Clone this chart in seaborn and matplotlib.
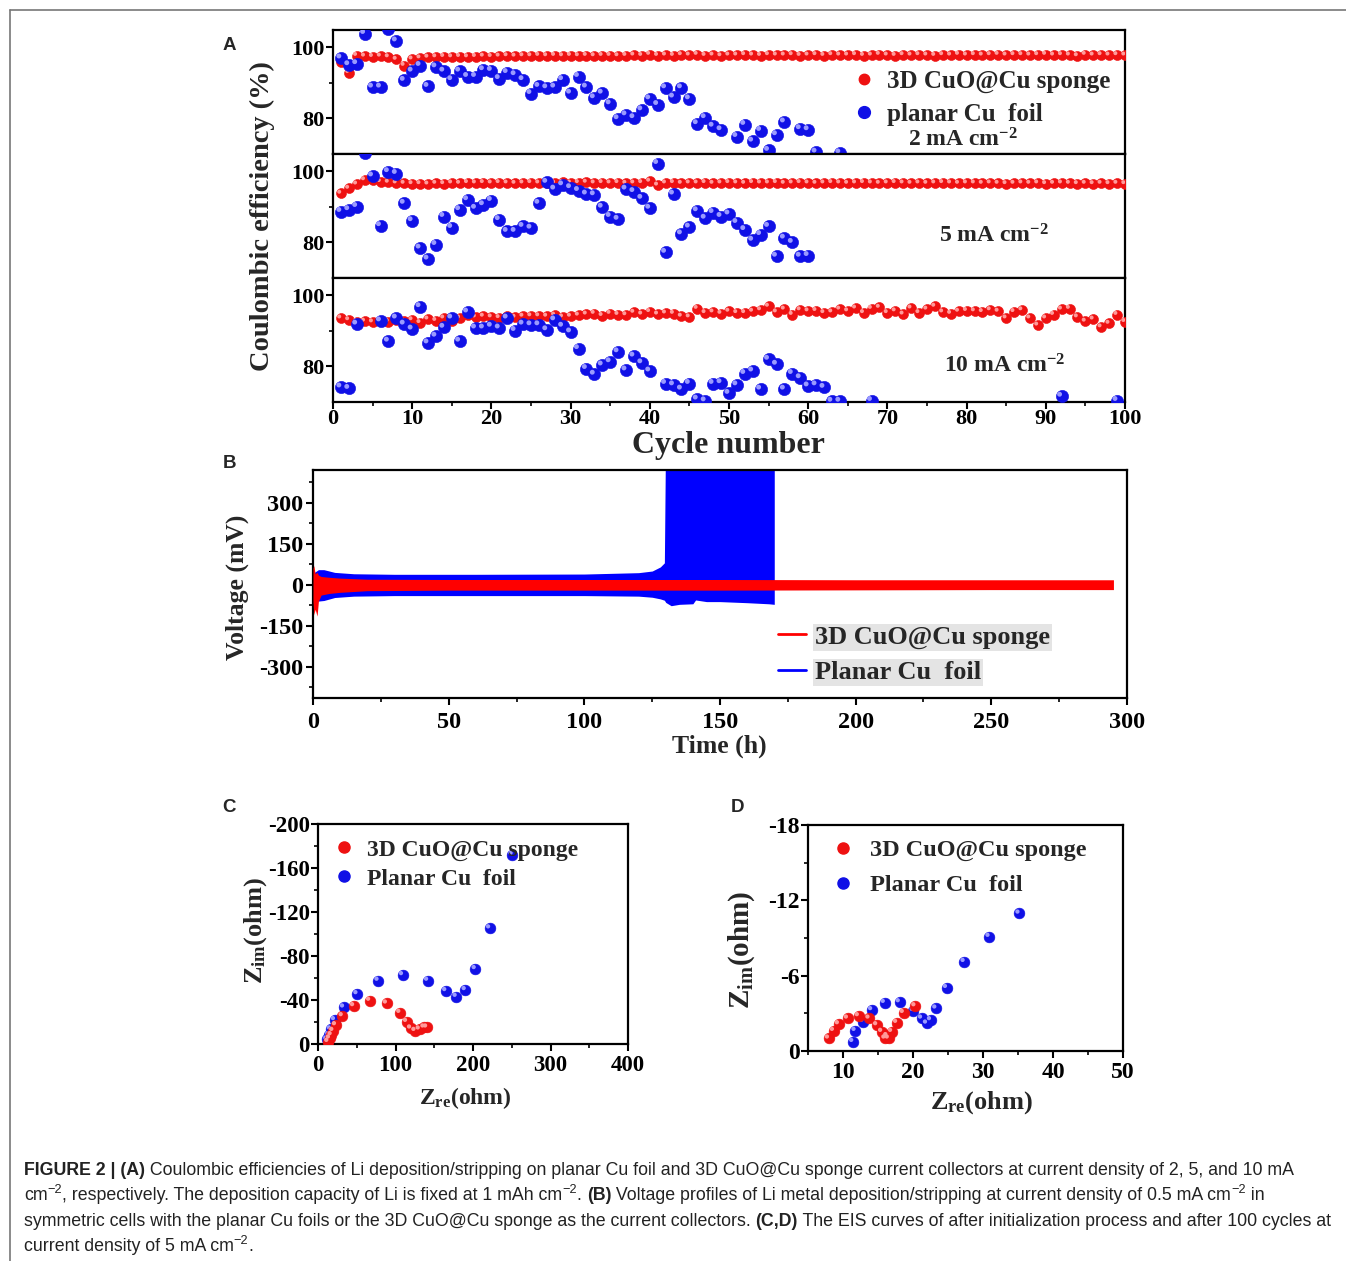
import numpy as np
import pandas as pd
import matplotlib
matplotlib.use("Agg")
import matplotlib.pyplot as plt
import seaborn as sns
from matplotlib.lines import Line2D
from matplotlib.ticker import MultipleLocator, FixedLocator
import matplotlib.transforms as mtrans

# ------------------------------------------------------------------ data
cycles = list(range(1, 101))

ce_2mA_sponge = [95.8, 92.8, 97.6, 97.4, 97.3, 97.4, 97.2, 96.5, 94.8, 96.6,
                 96.9, 97.1, 97.2, 97.3, 97.2, 97.3, 97.2, 97.3, 97.4, 97.3,
                 97.4, 97.5, 97.4, 97.5, 97.5, 97.6, 97.5, 97.6, 97.5, 97.6,
                 97.5, 97.6, 97.5, 97.6, 97.6, 97.5, 97.6, 97.7, 97.6, 97.9,
                 97.6, 97.7, 97.6, 97.8, 97.7, 97.9, 97.6, 97.7, 97.5, 97.7,
                 97.7, 97.8, 97.7, 97.6, 97.8, 97.7, 97.7, 97.8, 97.6, 97.7,
                 97.8, 97.6, 97.8, 97.7, 97.7, 97.8, 97.6, 97.7, 97.9, 97.7,
                 97.6, 97.8, 97.7, 97.8, 97.7, 97.6, 97.8, 97.7, 97.9, 97.7,
                 97.8, 97.7, 97.8, 97.9, 97.7, 97.8, 97.8, 97.7, 97.8, 97.9,
                 97.7, 97.8, 97.7, 97.5, 97.9, 97.7, 97.8, 97.7, 97.8, 97.7]

foil_2mA_cycles = list(range(1, 50)) + [51, 52, 53, 54, 55, 56, 57, 59, 60, 61, 64]
foil_2mA_ce = [96.9, 95.0, 95.3, 103.8, 88.7, 88.7, 105.0, 101.7, 90.6, 93.2,
               94.8, 88.9, 94.4, 93.2, 90.8, 93.2, 91.7, 91.7, 93.6, 93.4,
               91.1, 92.8, 92.2, 90.8, 86.9, 88.9, 88.5, 88.7, 90.8, 87.0,
               91.7, 88.7, 85.7, 87.0, 84.0, 79.8, 80.9, 80.1, 82.3, 85.4,
               83.8, 88.5, 85.9, 88.5, 85.4, 78.4, 80.1, 77.7, 76.7,
               74.8, 78.2, 73.5, 76.5, 70.9, 75.3, 78.9, 77.0, 76.7, 70.4, 70.2]

ce_5mA_sponge = [93.7, 95.1, 96.3, 97.5, 97.5, 97.0, 96.8, 96.6, 96.5, 96.4,
                 96.4, 96.3, 96.5, 96.4, 96.6, 96.5, 96.7, 96.6, 96.7, 96.6,
                 96.7, 96.6, 96.5, 96.6, 96.7, 96.6, 96.7, 96.6, 96.8, 96.6,
                 96.7, 96.8, 96.6, 96.7, 96.6, 96.7, 96.5, 96.6, 96.7, 97.1,
                 96.0, 96.6, 96.7, 96.5, 96.6, 96.6, 96.7, 96.5, 96.6, 96.7,
                 96.6, 96.5, 96.7, 96.6, 96.6, 96.7, 96.5, 96.6, 96.7, 96.6,
                 96.5, 96.6, 96.7, 96.6, 96.5, 96.6, 96.7, 96.6, 96.5, 96.6,
                 96.7, 96.6, 96.5, 96.6, 96.5, 96.6, 96.7, 96.6, 96.5, 96.6,
                 96.6, 96.5, 96.6, 96.5, 96.4, 96.5, 96.6, 96.5, 96.6, 96.4,
                 96.5, 96.6, 96.5, 96.4, 96.5, 96.4, 96.5, 96.4, 96.5, 96.4]

foil_5mA_cycles = list(range(1, 61))
foil_5mA_ce = [88.6, 89.1, 90.0, 105.0, 98.6, 84.6, 99.8, 99.3, 90.9, 86.0,
               78.3, 75.2, 79.3, 87.2, 84.1, 89.1, 91.9, 89.5, 90.5, 91.7,
               86.3, 83.0, 83.0, 84.4, 83.9, 90.9, 96.8, 94.9, 96.1, 95.3,
               94.5, 93.5, 93.3, 89.8, 87.2, 86.4, 94.9, 94.2, 92.3, 89.5,
               102.1, 77.1, 93.5, 82.3, 84.2, 88.8, 86.7, 88.3, 87.2, 87.9,
               85.5, 83.5, 80.5, 82.1, 84.4, 76.0, 81.1, 79.9, 76.0, 76.2]

ce_10mA_sponge = [93.5, 93.0, 92.5, 92.6, 92.4, 92.8, 92.5, 93.0, 92.6, 93.0,
                  92.2, 93.2, 92.8, 93.5, 92.8, 93.5, 94.3, 93.8, 94.0, 93.8,
                  93.6, 94.0, 93.7, 94.0, 94.1, 94.1, 94.0, 94.3, 93.8, 94.0,
                  94.3, 94.6, 94.8, 94.2, 94.8, 94.5, 94.4, 95.1, 94.6, 95.3,
                  94.6, 94.9, 94.8, 94.0, 93.8, 96.2, 95.0, 95.2, 94.8, 95.4,
                  95.0, 95.0, 95.4, 95.8, 96.8, 95.2, 96.0, 94.5, 95.8, 95.5,
                  95.6, 95.0, 95.2, 96.0, 95.5, 96.3, 95.0, 96.2, 96.5, 95.0,
                  95.5, 94.6, 96.3, 95.0, 96.0, 96.8, 95.2, 94.8, 95.4, 95.6,
                  95.5, 95.3, 95.8, 95.4, 93.5, 95.3, 95.8, 93.5, 91.5, 93.5,
                  94.5, 96.0, 96.2, 93.8, 92.6, 93.2, 91.0, 92.0, 94.5, 92.5]

foil_10mA_cycles = [1, 2, 3] + list(range(6, 41)) + list(range(42, 65)) + [68, 92, 99]
foil_10mA_ce = [74.1, 73.7, 91.8,
                92.7, 87.0, 93.5, 91.8, 90.4, 96.7, 86.5, 88.4, 90.9, 93.5,
                87.0, 95.2, 90.7, 90.7, 91.2, 90.7, 93.5, 90.0, 91.8, 91.6,
                91.6, 90.2, 93.0, 91.2, 89.6, 84.9, 79.3, 77.7, 80.3, 81.2,
                84.0, 78.9, 82.8, 80.9, 78.6,
                75.1, 74.7, 73.5, 75.1, 70.7, 70.2, 75.1, 75.3, 72.3, 74.7,
                77.9, 78.6, 73.5, 81.9, 80.5, 73.5, 77.9, 76.7, 74.4, 74.7,
                74.0, 70.1, 70.1,
                70.3, 71.5, 70.3]

# panel B: envelope of the voltage oscillation (mV) read at several times (h)
foil_t = [0.5, 2, 4, 8, 15, 30, 60, 100, 120, 125, 128, 129.5, 130, 132, 135, 140, 141, 145, 150, 160, 168, 170]
foil_hi = [45, 55, 55, 45, 40, 38, 38, 39, 44, 50, 65, 80, 600, 600, 600, 600, 600, 600, 600, 600, 600, 600]
foil_lo = [-50, -60, -58, -47, -42, -40, -40, -40, -42, -46, -52, -57, -65, -77, -72, -70, -56, -62, -62, -66, -70, -72]
sponge_t = [0, 0.3, 0.8, 1.5, 2, 3, 6, 10, 20, 50, 100, 150, 200, 250, 295]
sponge_hi = [60, 70, 40, 45, 35, 30, 27, 24, 20, 19, 19, 19, 18, 18, 18]
sponge_lo = [-60, -110, -90, -115, -60, -38, -32, -28, -22, -20, -20, -20, -19, -18, -18]

# panel C: Nyquist (after initialization)
c_sponge_re = [13.0, 15.1, 17.3, 19.5, 22.9, 31.6, 46.3, 67.0, 88.6, 105.9, 114.6, 119.8, 125.4, 131.0, 137.1, 140.5]
c_sponge_im = [-2.1, -5.2, -8.2, -12.1, -17.3, -25.5, -34.6, -39.5, -37.0, -28.5, -20.3, -14.3, -12.1, -13.4, -15.2, -15.2]
c_foil_re = [11.7, 14.3, 16.4, 21.6, 33.3, 50.6, 77.8, 109.4, 141.8, 165.2, 178.6, 190.3, 203.2, 221.8, 250.8]
c_foil_im = [-4.2, -8.2, -13.4, -21.9, -33.4, -45.5, -57.7, -62.8, -57.7, -48.3, -43.1, -49.2, -68.3, -105.3, -172.1]

# panel D: Nyquist (after 100 cycles)
d_sponge_re = [7.96, 8.67, 9.38, 10.67, 12.23, 13.75, 14.85, 15.56, 16.03, 16.3, 16.51, 16.98, 17.70, 18.65, 20.31]
d_sponge_im = [-1.01, -1.62, -2.15, -2.60, -2.79, -2.60, -2.07, -1.54, -1.01, -1.2, -1.01, -1.54, -2.26, -3.05, -3.58]
d_foil_re = [11.43, 11.76, 12.85, 14.13, 15.94, 18.08, 20.07, 21.26, 21.97, 22.54, 23.30, 24.82, 27.34, 30.90, 35.18]
d_foil_im = [-0.74, -1.62, -2.34, -3.27, -3.85, -3.90, -3.21, -2.60, -2.20, -2.47, -3.40, -5.04, -7.11, -9.11, -10.96]

label_sponge = "3D CuO@Cu sponge"
label_foil_a = "planar Cu  foil"
label_foil = "Planar Cu  foil"

# ------------------------------------------------------------------ style
sns.set_theme(style="ticks")
plt.rcParams.update({
    "font.family": ["Liberation Serif", "DejaVu Serif"],
    "font.weight": "bold",
    "axes.labelweight": "bold",
    "mathtext.fontset": "custom",
    "mathtext.rm": "Liberation Serif:bold",
    "mathtext.bf": "Liberation Serif:bold",
    "mathtext.it": "Liberation Serif:italic:bold",
    "axes.unicode_minus": False,
    "axes.edgecolor": "black",
    "axes.linewidth": 1.6,
    "xtick.color": "black",
    "ytick.color": "black",
})

RED, RED_L = "#ee1111", "#ff9a9a"
BLUE, BLUE_L = "#1010e6", "#9a9aff"

W, H = 1346, 1261
fig = plt.figure(figsize=(W / 100, H / 100), dpi=100)


def rect(l, t, r, b):
    return [l / W, 1 - b / H, (r - l) / W, (b - t) / H]


def balls(ax, x, y, base, light, s, z):
    sns.scatterplot(x=x, y=y, ax=ax, color=base, s=s, edgecolor=base,
                    linewidth=0.4, zorder=z, legend=False)
    r = np.sqrt(s) * 0.17
    off = mtrans.offset_copy(ax.transData, fig=fig, x=-r, y=r, units="points")
    ax.scatter(x, y, s=s * 0.16, color=light, edgecolors="none",
               transform=off, zorder=z + 0.1)


def style_ax(ax, lsize):
    for sp in ax.spines.values():
        sp.set_linewidth(1.6)
        sp.set_visible(True)
    ax.tick_params(which="major", direction="out", length=5, width=1.5,
                   labelsize=lsize, pad=1)
    ax.tick_params(which="minor", direction="out", length=3, width=1.2)
    ax.tick_params(top=False, right=False, which="both")
    ax.set_xlabel("")
    ax.set_ylabel("")
    ax.grid(False)


# ------------------------------------------------------------------ panel A
axesA = [fig.add_axes(rect(333, 30, 1125, 154)),
         fig.add_axes(rect(333, 154, 1125, 278)),
         fig.add_axes(rect(333, 278, 1125, 402))]
sponge_sets = [ce_2mA_sponge, ce_5mA_sponge, ce_10mA_sponge]
foil_sets = [(foil_2mA_cycles, foil_2mA_ce), (foil_5mA_cycles, foil_5mA_ce),
             (foil_10mA_cycles, foil_10mA_ce)]
for i, ax in enumerate(axesA):
    balls(ax, cycles, sponge_sets[i], RED, RED_L, 52, 3)
    balls(ax, foil_sets[i][0], foil_sets[i][1], BLUE, BLUE_L, 78, 4)
    ax.set_xlim(0, 100)
    ax.set_ylim(69.9, 104.8)
    style_ax(ax, 16)
    ax.yaxis.set_major_locator(FixedLocator([80, 100]))
    ax.yaxis.set_minor_locator(FixedLocator([90]))
    ax.xaxis.set_major_locator(MultipleLocator(10))
    ax.xaxis.set_minor_locator(MultipleLocator(5))
    if i < 2:
        ax.tick_params(axis="x", which="both", bottom=False, labelbottom=False)
    else:
        ax.tick_params(axis="x", pad=0)

hA = [Line2D([], [], ls="", marker="o", color=RED, markersize=7.5),
      Line2D([], [], ls="", marker="o", color=BLUE, markersize=8.5)]
axesA[0].legend(hA, [label_sponge, label_foil_a], loc="upper left",
                bbox_to_anchor=(0.658, 0.68), frameon=False, borderpad=0,
                borderaxespad=0, handlelength=0.8, handletextpad=0.5,
                labelspacing=0.41, prop={"size": 18, "weight": "bold"})
axesA[0].text(0.795, 0.115, r"2 mA cm$^{-2}$", transform=axesA[0].transAxes,
              ha="center", va="center", fontsize=17)
axesA[1].text(0.835, 0.34, r"5 mA cm$^{-2}$", transform=axesA[1].transAxes,
              ha="center", va="center", fontsize=17)
axesA[2].text(0.848, 0.29, r"10 mA cm$^{-2}$", transform=axesA[2].transAxes,
              ha="center", va="center", fontsize=17)
fig.text(262 / W, 1 - 216 / H, "Coulombic efficiency (%)", rotation=90,
         ha="center", va="center", fontsize=20.5)
fig.text(728 / W, 1 - 445 / H, "Cycle number", ha="center", va="center",
         fontsize=23)

# ------------------------------------------------------------------ panel B
axB = fig.add_axes(rect(313, 470, 1127, 698))
axB.fill_between(foil_t, foil_lo, foil_hi, color="#0000ff", linewidth=0, zorder=2)
axB.fill_between(sponge_t, sponge_lo, sponge_hi, color="#ff0000", linewidth=0, zorder=3)
axB.set_xlim(0, 300)
axB.set_ylim(-415, 420)
style_ax(axB, 17.5)
axB.xaxis.set_major_locator(MultipleLocator(50))
axB.xaxis.set_minor_locator(MultipleLocator(25))
axB.yaxis.set_major_locator(FixedLocator([-300, -150, 0, 150, 300]))
axB.yaxis.set_minor_locator(FixedLocator([-375, -225, -75, 75, 225, 375]))
axB.tick_params(axis="x", pad=5)
axB.tick_params(axis="y", pad=2)
hB = [Line2D([], [], color="#ff0000", lw=2), Line2D([], [], color="#0000ff", lw=2)]
legB = axB.legend(hB, [label_sponge, label_foil], loc="upper left",
                  bbox_to_anchor=(0.571, 0.32), frameon=False, borderpad=0,
                  borderaxespad=0, handlelength=1.05, handletextpad=0.35,
                  labelspacing=0.46, prop={"size": 19, "weight": "bold"})
for t in legB.get_texts():
    t.set_bbox(dict(facecolor="#e4e4e4", edgecolor="none", pad=1.5))
fig.text(237 / W, 1 - 587 / H, "Voltage (mV)", rotation=90, ha="center",
         va="center", fontsize=18.5)
fig.text(719 / W, 1 - 746 / H, "Time (h)", ha="center", va="center", fontsize=18.5)

# ------------------------------------------------------------------ panel C
axC = fig.add_axes(rect(318, 824, 628, 1044))
balls(axC, c_foil_re, c_foil_im, BLUE, BLUE_L, 60, 3)
balls(axC, c_sponge_re, c_sponge_im, RED, RED_L, 60, 4)
axC.set_xlim(0, 400)
axC.set_ylim(0, -200)
style_ax(axC, 16.5)
axC.xaxis.set_major_locator(MultipleLocator(100))
axC.xaxis.set_minor_locator(MultipleLocator(50))
axC.yaxis.set_major_locator(MultipleLocator(40))
axC.yaxis.set_minor_locator(MultipleLocator(20))
axC.tick_params(axis="x", pad=3)
hC = [Line2D([], [], ls="", marker="o", color=RED, markersize=8),
      Line2D([], [], ls="", marker="o", color=BLUE, markersize=8)]
axC.legend(hC, [label_sponge, label_foil], loc="upper left",
           bbox_to_anchor=(0.055, 0.931), frameon=False, borderpad=0,
           borderaxespad=0, handlelength=0.8, handletextpad=0.55,
           labelspacing=0.31, prop={"size": 17, "weight": "bold"})
fig.text(256 / W, 1 - 930 / H, r"Z$_{\mathbf{im}}$(ohm)", rotation=90,
         ha="center", va="center", fontsize=19)
fig.text(465 / W, 1 - 1098 / H, r"Z$_{\mathbf{re}}$(ohm)", ha="center",
         va="center", fontsize=17)

# ------------------------------------------------------------------ panel D
axD = fig.add_axes(rect(808, 825, 1123, 1051))
balls(axD, d_foil_re, d_foil_im, BLUE, BLUE_L, 60, 3)
balls(axD, d_sponge_re, d_sponge_im, RED, RED_L, 60, 4)
axD.set_xlim(5, 50)
axD.set_ylim(0, -18)
style_ax(axD, 17)
axD.xaxis.set_major_locator(MultipleLocator(10))
axD.xaxis.set_minor_locator(MultipleLocator(5))
axD.yaxis.set_major_locator(MultipleLocator(6))
axD.yaxis.set_minor_locator(MultipleLocator(3))
axD.tick_params(axis="x", pad=3)
axD.legend(hC, [label_sponge, label_foil], loc="upper left",
           bbox_to_anchor=(0.08, 0.938), frameon=False, borderpad=0,
           borderaxespad=0, handlelength=0.8, handletextpad=0.7,
           labelspacing=0.53, prop={"size": 17.5, "weight": "bold"})
fig.text(742 / W, 1 - 950 / H, r"Z$_{\mathbf{im}}$(ohm)", rotation=90,
         ha="center", va="center", fontsize=21)
fig.text(982 / W, 1 - 1103 / H, r"Z$_{\mathbf{re}}$(ohm)", ha="center",
         va="center", fontsize=19)

# ------------------------------------------------------------------ panel letters
for lab, (px, py) in {"A": (229, 45), "B": (229, 463), "C": (229, 808), "D": (737, 808)}.items():
    fig.text(px / W, 1 - py / H, lab, ha="center", va="center", fontsize=13.5,
             fontweight="bold", family=["Liberation Sans", "DejaVu Sans"])

# ------------------------------------------------------------------ frame
fig.add_artist(Line2D([10 / W, 1], [1 - 10 / H, 1 - 10 / H], color="#777777", lw=1.2))
fig.add_artist(Line2D([10 / W, 10 / W], [0, 1 - 10 / H], color="#777777", lw=1.2))

# ------------------------------------------------------------------ caption
caption_lines = [
    [("FIGURE 2 | (A)", "b"), (" Coulombic efficiencies of Li deposition/stripping on planar Cu foil and 3D CuO@Cu sponge current collectors at current density of 2, 5, and 10 mA", "n")],
    [("cm", "n"), ("\u22122", "s"), (", respectively. The deposition capacity of Li is fixed at 1 mAh cm", "n"), ("\u22122", "s"), (". ", "n"), ("(B)", "b"), (" Voltage profiles of Li metal deposition/stripping at current density of 0.5 mA cm", "n"), ("\u22122", "s"), (" in", "n")],
    [("symmetric cells with the planar Cu foils or the 3D CuO@Cu sponge as the current collectors. ", "n"), ("(C,D)", "b"), (" The EIS curves of after initialization process and after 100 cycles at", "n")],
    [("current density of 5 mA cm", "n"), ("\u22122", "s"), (".", "n")],
]
cap_family = ["Liberation Sans", "DejaVu Sans"]
renderer = fig.canvas.get_renderer()


def _w(txt, weight, size):
    a = fig.text(0, 0, "x" + txt + "x", fontsize=size, fontweight=weight, family=cap_family)
    b = fig.text(0, 0, "xx", fontsize=size, fontweight=weight, family=cap_family)
    w = a.get_window_extent(renderer).width - b.get_window_extent(renderer).width
    a.remove()
    b.remove()
    return w


def _piece(txt, kind, size):
    if kind == "s":
        return txt, "normal", size * 0.72, size * 0.42
    return txt, ("bold" if kind == "b" else "normal"), size, 0.0


base = 12.0
longest = max(sum(_w(*_piece(t, k, base)[:3]) for t, k in line) for line in caption_lines)
cap_size = base * 1312 / longest

baselines = [1175, 1200, 1226, 1251]
for line, yb in zip(caption_lines, baselines):
    x = 24.0
    for t, k in line:
        txt, wt, sz, rise = _piece(t, k, cap_size)
        fig.text(x / W, 1 - (yb - rise * 100 / 72) / H, txt, fontsize=sz,
                 fontweight=wt, family=cap_family, ha="left", va="baseline",
                 color="#222222")
        x += _w(txt, wt, sz)

fig.savefig("out.png", dpi=100)
